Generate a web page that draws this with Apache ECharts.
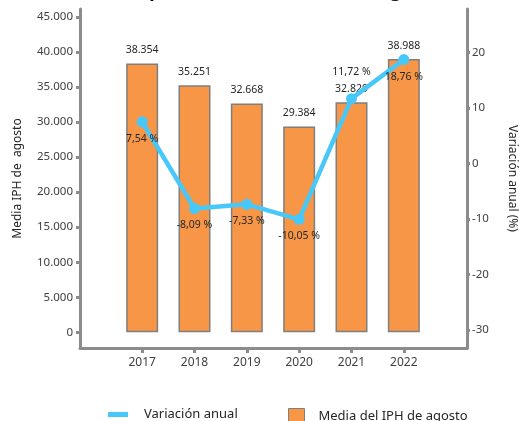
<!DOCTYPE html>
<html>
<head>
<meta charset="utf-8">
<script src="https://cdn.jsdelivr.net/npm/echarts@6/dist/echarts.min.js"></script>
<style>html,body{margin:0;padding:0;background:#fff}#c{width:519px;height:421px}</style>
</head>
<body>
<div id="c"></div>
<script>
const years = ['2017', '2018', '2019', '2020', '2021', '2022'];
const mediaIPH = [38354, 35251, 32668, 29384, 32829, 38988];
const variacion = [7.54, -8.09, -7.33, -10.05, 11.72, 18.76];
const leftTicks = [0, 5000, 10000, 15000, 20000, 25000, 30000, 35000, 40000, 45000];
const rightTicks = [-30, -20, -10, 0, 10, 20];

const varLabelPos = ['bottom', 'bottom', 'bottom', 'bottom', 'top', 'bottom'];
const varLabelDist = [6, 6, 6, 6, 16, 6];

const FONT = 'Noto Sans';
const AXIS = '#8c8c8c';
const TXT = '#404040';
const fmtThousands = v => String(v).replace(/\B(?=(\d{3})+(?!\d))/g, '.');
const fmtPct = v => v.toFixed(2).replace('.', ',') + ' %';

const chart = echarts.init(document.getElementById('c'), null, {renderer: 'canvas'});
chart.setOption({
  animation: false,
  textStyle: {fontFamily: FONT},
  title: {
    text: 'Comparativa anual del IPH de agosto',
    left: 270, textAlign: 'center', top: -22,
    textStyle: {fontFamily: FONT, fontSize: 18, fontWeight: 'bold', color: '#000'}
  },
  grid: [
    {left: 116, right: 89, top: 9, bottom: 73, outerBoundsMode: 'none', containLabel: false},
    {left: 80, right: 52, top: 9, bottom: 73, outerBoundsMode: 'none', containLabel: false}
  ],
  legend: [
    {
      data: ['Variación anual'], left: 103, top: 403,
      icon: 'rect', itemWidth: 20, itemHeight: 5,
      textStyle: {fontFamily: FONT, fontSize: 13, color: '#262626', padding: [0, 0, 0, 11]}
    },
    {
      data: ['Media del IPH de agosto'], left: 283, top: 403,
      icon: 'rect', itemWidth: 16, itemHeight: 15,
      itemStyle: {borderColor: '#7f7f7f', borderWidth: 1},
      textStyle: {fontFamily: FONT, fontSize: 13, color: '#262626', padding: [0, 0, 0, 9]}
    }
  ],
  xAxis: [
    {
      type: 'category', gridIndex: 0, data: years,
      axisLine: {show: false, onZero: false},
      axisTick: {show: true, alignWithLabel: true, length: 5, lineStyle: {color: AXIS, width: 3}},
      axisLabel: {fontFamily: FONT, fontSize: 12, color: TXT, margin: 9}
    },
    {
      type: 'value', gridIndex: 1, min: 0, max: 1,
      axisLine: {show: true, onZero: false, lineStyle: {color: AXIS, width: 3}},
      axisTick: {show: false}, axisLabel: {show: false}, splitLine: {show: false}
    }
  ],
  yAxis: [
    {
      type: 'value', gridIndex: 0, position: 'left', offset: 36,
      min: -2240, max: 46140,
      name: 'Media IPH de  agosto', nameLocation: 'middle', nameGap: 56, nameRotate: 90,
      nameTextStyle: {fontFamily: FONT, fontSize: 12, color: '#262626'},
      axisLine: {show: true, onZero: false, lineStyle: {color: AXIS, width: 3}},
      axisTick: {show: true, length: 4, customValues: leftTicks, lineStyle: {color: AXIS, width: 3}},
      axisLabel: {customValues: leftTicks, formatter: fmtThousands, fontFamily: FONT, fontSize: 11.5, color: TXT, margin: 7},
      splitLine: {show: false}
    },
    {
      type: 'value', gridIndex: 0, position: 'right', offset: 37,
      min: -33.24, max: 27.88,
      name: 'Variación anual (%)', nameLocation: 'middle', nameGap: 39, nameRotate: -90,
      nameTextStyle: {fontFamily: FONT, fontSize: 12, color: '#262626'},
      axisLine: {show: true, onZero: false, lineStyle: {color: AXIS, width: 3}},
      axisTick: {show: true, length: 3, customValues: rightTicks, lineStyle: {color: AXIS, width: 3}},
      axisLabel: {customValues: rightTicks, fontFamily: FONT, fontSize: 11.5, color: TXT, margin: 5},
      splitLine: {show: false}
    },
    {
      type: 'value', gridIndex: 1, show: false
    }
  ],
  series: [
    {
      name: 'Media del IPH de agosto', type: 'bar',
      xAxisIndex: 0, yAxisIndex: 0, z: 2,
      data: mediaIPH, barWidth: 32,
      itemStyle: {color: '#F79646', borderColor: '#7f7f7f', borderWidth: 1.5},
      label: {show: true, position: 'top', distance: 8, formatter: p => fmtThousands(p.value),
               fontFamily: FONT, fontSize: 10.5, color: '#262626'}
    },
    {
      name: 'Variación anual', type: 'line',
      xAxisIndex: 0, yAxisIndex: 1, z: 3,
      data: variacion.map((v, i) => ({value: v, label: {position: varLabelPos[i], distance: varLabelDist[i]}})),
      symbol: 'circle', symbolSize: 11,
      lineStyle: {color: '#47C8F8', width: 4.5},
      itemStyle: {color: '#47C8F8'},
      label: {show: true, formatter: p => fmtPct(p.value), fontFamily: FONT, fontSize: 10.5, color: '#262626'}
    }
  ]
});
</script>
</body>
</html>
